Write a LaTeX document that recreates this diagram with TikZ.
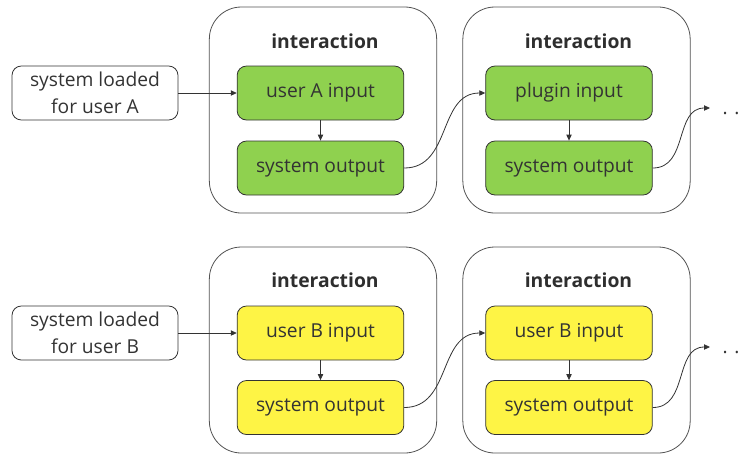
\documentclass[tikz,border=0pt]{standalone}
\usepackage{fontspec}
\setmainfont{Open Sans}
\usetikzlibrary{arrows.meta}
\definecolor{ln}{HTML}{333333}
\definecolor{gfill}{HTML}{8FD14F}
\definecolor{yfill}{HTML}{FEF445}
\tikzset{
  px/.style={x=0.75pt,y=-0.75pt},
  txt/.style={font=\fontsize{14.4pt}{20pt}\selectfont, text=ln, align=center},
  startbox/.style={txt, draw=ln, line width=0.6pt, rounded corners=7pt, minimum width=124.5pt, minimum height=40.5pt, inner sep=0pt},
  stepbox/.style={txt, draw=ln, line width=0.6pt, rounded corners=7pt, minimum width=125pt, minimum height=40.5pt, inner sep=0pt},
  greenbox/.style={stepbox, fill=gfill},
  yellowbox/.style={stepbox, fill=yfill},
  groupbox/.style={draw=ln!85, line width=0.6pt, rounded corners=24pt, minimum width=170.5pt, minimum height=154.5pt, inner sep=0pt},
  title/.style={font=\fontsize{14.5pt}{17pt}\selectfont\bfseries, text=ln!90!black},
  conn/.style={draw=ln, line width=0.6pt, -{Triangle[length=4.5pt,width=4pt]}},
  dots/.style={font=\fontsize{14.4pt}{17pt}\selectfont, text=ln, inner sep=0pt}
}
\begin{document}
\begin{tikzpicture}[px]
\useasboundingbox (0,0) rectangle (741,455);
% top row
\node[groupbox] (g1) at (323,110) {};
\node[groupbox] (g2) at (576.5,110) {};
\node[title] (t1) at (325,41) {interaction};
\node[title] (t2) at (578.5,41) {interaction};
\node[startbox] (sA) at (95,93) {system loaded\\for user A};
\node[greenbox] (uA) at (320.5,93) {user A input};
\node[greenbox] (o1) at (320.5,168) {system output};
\node[greenbox] (pI) at (569,93) {plugin input};
\node[greenbox] (o2) at (569,168) {system output};
\coordinate (eA) at (710,108);
\node[dots] (dA) at (731,113) {.\hspace{5pt}.};
\draw[conn] (sA) -- (uA);
\draw[conn] (uA) -- (o1);
\draw[conn] (o1.east) to[out=0,in=180,looseness=1.1] (pI.west);
\draw[conn] (pI) -- (o2);
\draw[conn] (o2.east) to[out=0,in=180,looseness=1.1] (eA);
% bottom row
\node[groupbox] (g3) at (323,350) {};
\node[groupbox] (g4) at (576.5,350) {};
\node[title] (t3) at (325,280) {interaction};
\node[title] (t4) at (578.5,280) {interaction};
\node[startbox] (sB) at (95,333) {system loaded\\for user B};
\node[yellowbox] (uB) at (320.5,333) {user B input};
\node[yellowbox] (o3) at (320.5,407.5) {system output};
\node[yellowbox] (uB2) at (569,333) {user B input};
\node[yellowbox] (o4) at (569,407.5) {system output};
\coordinate (eB) at (710,347);
\node[dots] (dB) at (731,352) {.\hspace{5pt}.};
\draw[conn] (sB) -- (uB);
\draw[conn] (uB) -- (o3);
\draw[conn] (o3.east) to[out=0,in=180,looseness=1.1] (uB2.west);
\draw[conn] (uB2) -- (o4);
\draw[conn] (o4.east) to[out=0,in=180,looseness=1.1] (eB);
\end{tikzpicture}
\end{document}
